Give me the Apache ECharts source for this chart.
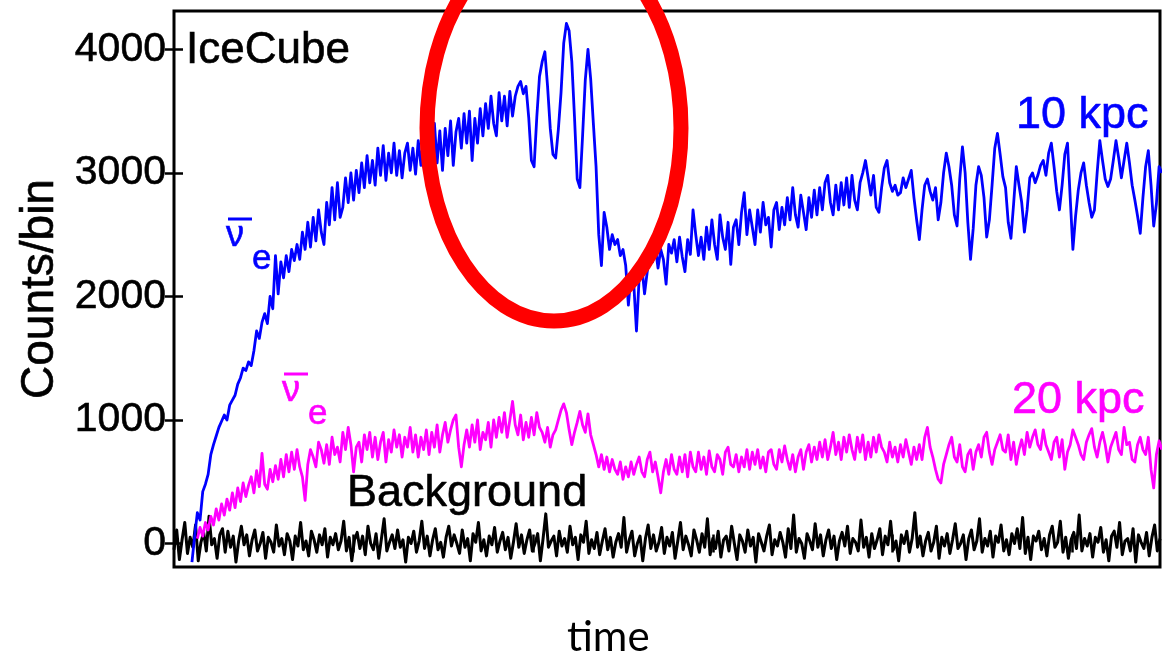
<!DOCTYPE html>
<html>
<head>
<meta charset="utf-8">
<title>IceCube counts</title>
<script src="https://cdn.jsdelivr.net/npm/echarts@6/dist/echarts.min.js"></script>
<style>
  html, body { margin: 0; padding: 0; background: #fff; }
  #chart { width: 1174px; height: 659px; }
</style>
</head>
<body>
<div id="chart"></div>
<script>
// Bin width of the light curves (time units) and start time of each curve
const binWidth = 1.5;
const startTen = 10;
const startTwenty = 13;
const startBackground = 0;

// Counts per bin, anti-electron neutrinos, supernova at 10 kpc
const countsTenKpc = [
  -150, 60, 250, 190, 420, 480, 560, 720, 800, 870, 940, 990, 1040, 1000, 1120, 1160, 1200, 1290, 1340, 1420,
  1400, 1470, 1440, 1560, 1720, 1660, 1790, 1860, 1780, 2000, 1900, 2330, 2020, 2280, 2150, 2330, 2200, 2380, 2290, 2420,
  2300, 2520, 2380, 2600, 2400, 2640, 2450, 2700, 2520, 2420, 2760, 2580, 2880, 2620, 2920, 2640, 2720, 2960, 2760, 3000,
  2780, 3020, 2840, 3080, 2880, 3140, 2920, 3100, 2900, 3200, 2980, 3220, 2940, 3160, 3000, 3240, 2980, 3180, 2960, 3160,
  3240, 3020, 3200, 2990, 3260, 3060, 3300, 3000, 3330, 3100, 3400, 3080, 3340, 3020, 3360, 3140, 3420, 3060, 3330, 3440,
  3200, 3480, 3240, 3500, 3100, 3440, 3240, 3520, 3300, 3560, 3360, 3620, 3400, 3300, 3650, 3420, 3620, 3380, 3660, 3460,
  3620, 3700, 3740, 3640, 3700, 3450, 3100, 3050, 3450, 3780, 3900, 3980, 3700, 3360, 3150, 3120, 3350, 3650, 4050, 4210,
  4150, 3900, 3450, 2950, 2880, 3300, 3750, 4000, 3760, 3400, 3050, 2500, 2250, 2680, 2560, 2380, 2500, 2420, 2460, 2330,
  2380, 2250, 1930, 2180, 2100, 1720, 2150, 2240, 2020, 2200, 2340, 2280, 2400, 2230, 2380, 2300, 2100, 2420, 2350, 2460,
  2280, 2480, 2320, 2200, 2460, 2340, 2700, 2500, 2330, 2480, 2300, 2560, 2380, 2620, 2420, 2300, 2660, 2480, 2380, 2600,
  2260, 2560, 2620, 2420, 2680, 2840, 2500, 2700, 2560, 2420, 2700, 2520, 2760, 2580, 2640, 2400, 2700, 2760, 2540, 2720,
  2580, 2800, 2620, 2880, 2660, 2560, 2820, 2680, 2540, 2800, 2640, 2860, 2660, 2880, 2700, 2920, 2980, 2760, 2660, 2900,
  2700, 2920, 2740, 2960, 2720, 2980, 2780, 2700, 2920, 3000, 3100, 2960, 2820, 2980, 2720, 2680, 2880, 3040, 3100, 2920,
  2850, 2900, 2820, 2840, 2960, 2880, 2950, 3020, 2800, 2620, 2460, 2700, 2900, 2950, 2850, 2780, 2880, 2620, 2760, 3000,
  3160, 3050, 2900, 2660, 2570, 2950, 3210, 3000, 2600, 2300, 2550, 2900, 3050, 2980, 2800, 2480, 2620, 2900, 3200, 3320,
  3150, 2970, 2880, 2600, 2470, 2750, 3050, 2900, 2760, 2520, 2700, 2960, 3000, 2920, 2980, 3060, 3100, 2980, 3160, 3240,
  3050, 2850, 2700, 2900, 3150, 3240, 2800, 2380, 2650, 2860, 3000, 3080, 2900, 2760, 2640, 2700, 3000, 3260, 3100, 2950,
  2890, 2950, 3100, 3260, 3120, 2960, 3100, 3240, 3080, 2900, 2780, 2650, 2510, 2800, 3050, 3180, 2900, 2570, 2750, 3050,
  3000
];

// Counts per bin, anti-electron neutrinos, supernova at 20 kpc
const countsTwentyKpc = [
  40, 130, 60, 170, 110, 220, 150, 280, 190, 320, 230, 360, 270, 410, 290, 450, 340, 490, 380, 470,
  540, 410, 590, 460, 730, 480, 440, 600, 500, 630, 520, 680, 540, 720, 580, 740, 600, 760, 620, 540,
  350, 640, 760, 700, 620, 820, 760, 650, 800, 640, 860, 720, 780, 660, 900, 760, 940, 800, 580, 780,
  820, 660, 880, 760, 900, 700, 860, 680, 820, 900, 660, 840, 740, 920, 780, 880, 700, 860, 780, 940,
  740, 880, 700, 860, 760, 920, 720, 900, 780, 960, 740, 880, 980, 820, 920, 1000, 1040, 780, 620, 800,
  920, 780, 960, 820, 1000, 760, 900, 840, 980, 780, 1000, 860, 1020, 900, 1060, 860, 1000, 1150, 960, 880,
  1040, 840, 980, 860, 1020, 880, 1060, 940, 900, 820, 940, 780, 880, 920, 1000, 1080, 1130, 1060, 920, 800,
  900, 980, 1070, 960, 900, 1050, 880, 800, 720, 620, 720, 600, 700, 580, 680, 600, 560, 660, 520, 620,
  540, 660, 560, 640, 700, 580, 540, 680, 740, 580, 660, 540, 410, 580, 680, 560, 720, 600, 560, 700,
  580, 720, 540, 740, 620, 580, 740, 600, 700, 560, 750, 620, 580, 720, 680, 560, 740, 780, 640, 620,
  720, 580, 700, 620, 760, 600, 740, 640, 760, 610, 700, 580, 740, 760, 640, 600, 760, 660, 790, 680,
  600, 720, 580, 700, 760, 600, 740, 800, 660, 780, 680, 820, 700, 840, 680, 780, 900, 720, 820, 680,
  860, 740, 880, 760, 680, 860, 740, 880, 680, 820, 700, 860, 740, 880, 780, 740, 660, 820, 700, 780,
  660, 800, 700, 840, 740, 640, 780, 680, 800, 680, 860, 940, 780, 700, 600, 520, 490, 640, 720, 800,
  860, 700, 660, 800, 620, 580, 720, 760, 600, 740, 800, 700, 860, 900, 740, 640, 760, 820, 880, 760,
  740, 880, 680, 820, 640, 760, 840, 720, 900, 780, 860, 920, 800, 760, 920, 800, 740, 680, 820, 860,
  700, 840, 600, 740, 800, 920, 860, 800, 720, 680, 820, 880, 930, 780, 700, 820, 900, 800, 660, 780,
  840, 900, 760, 720, 940, 800, 820, 680, 660, 800, 860, 760, 720, 860, 600, 450, 720, 830, 760
];

// Counts per bin, detector background
const countsBackground = [
  -50, 110, -130, 30, 170, -80, 50, -30, 150, -140, 10, 90, -60, 220, -10, 40, -120, 70, 120, -70,
  100, -30, 60, -150, 20, 140, -10, 70, -100, 30, 110, -60, 0, 90, -120, 50, 10, -70, 150, -20,
  40, -90, 80, 20, -130, 60, -20, 170, -50, 20, -100, 100, 30, -70, 70, -10, 120, -110, 50, -10,
  80, -50, 20, 180, -60, 50, -140, 30, 90, -40, 60, -90, 140, 0, -50, 80, -120, 40, 200, -60,
  10, 70, -40, 110, -30, 30, -150, 50, 0, 100, -70, 20, 180, -40, 60, -100, 30, 120, -50, 10,
  -110, 50, 140, -20, 70, 0, -80, 110, -30, 40, -140, 80, 10, 170, -60, 30, -100, 60, -10, 130,
  -70, 20, 90, -50, 50, -120, 10, 160, -30, 70, -80, 30, 110, -60, 0, 80, -140, 40, 240, -30,
  20, 60, -100, 100, -20, 40, -70, 140, -10, 50, -130, 70, 10, 180, -80, 30, -40, 90, -90, 20,
  120, -50, 50, -110, 10, 80, -30, 210, -70, 30, 100, -100, 0, 60, -140, 40, 150, -40, 70, -60,
  10, 130, -80, 50, -20, 90, -120, 20, 170, -50, 60, -10, -100, 110, 30, -70, 80, -30, 200, -90,
  40, -40, 100, -110, 30, 60, -60, 140, 0, -130, 70, 20, -70, 110, -20, 50, -150, 80, 10, -60,
  60, 150, -90, 30, -20, 90, 10, -110, 120, -40, 230, -70, 40, 0, -120, 80, 20, -50, 160, -30,
  70, -100, 30, 110, -40, 60, -130, 20, 90, -20, 140, -80, 40, 10, -60, 190, -30, 50, -110, 80,
  -40, 30, 120, -90, 60, -10, 180, -50, 20, -140, 70, 0, 100, -70, 40, 250, -30, 60, -100, 20,
  90, -60, 10, 140, -120, 50, -20, 80, -80, 30, 160, -40, 0, 70, -130, 40, 110, -50, 20, 200,
  -70, 40, -20, 100, -110, 60, 10, 150, -60, 30, -90, 80, 0, 120, -40, 210, -80, 50, -130, 60,
  20, 100, -50, 40, -100, 70, 140, -30, 10, 180, -70, 50, -120, 30, 90, -40, 230, -60, 40, -20,
  80, -110, 50, 10, 130, -70, 30, -140, 60, 100, -30, 170, -90, 20, 40, -60, 120, -150, 70, 10,
  -40, 90, -100, 50, 150, -60, 40
];

// Axis ticks
const countTicks = [0, 1000, 2000, 3000, 4000];
const timeTicks = [100, 200, 300, 400, 500];

// Pair each count with the time of its bin
function toPairs(counts, start) {
  return counts.map((c, i) => [start + i * binWidth, c]);
}

const FONT = '"Liberation Sans", Arial, Helvetica, sans-serif';
const BLUE = '#0000ff';
const MAGENTA = '#ff00ff';

const chart = echarts.init(document.getElementById('chart'), null, { renderer: 'canvas' });

const tickStyle = { inside: true, length: 9, lineStyle: { color: '#000', width: 2.5 } };

// overlined nu with subscript e
function nuBarE(x, baselineNu, color) {
  const txt = { fill: color, stroke: color, lineWidth: 0.6, textAlign: 'left', textVerticalAlign: 'middle' };
  return {
    type: 'group',
    children: [
      { type: 'text', x: x - 1, y: baselineNu - 11,
        style: Object.assign({ text: 'ν', font: '36px ' + FONT }, txt) },
      { type: 'line', shape: { x1: x + 1, y1: baselineNu - 28, x2: x + 25, y2: baselineNu - 28 },
        style: { stroke: color, lineWidth: 3 } },
      { type: 'text', x: x + 25, y: baselineNu + 12,
        style: Object.assign({ text: 'e', font: '35px ' + FONT }, txt) }
    ]
  };
}

function label(text, x, y, size, color) {
  return { type: 'text', x: x, y: y,
    style: { text: text, font: size + 'px ' + FONT, fill: color, stroke: color, lineWidth: 0.6,
      textVerticalAlign: 'middle' } };
}

const lineCommon = { showSymbol: false, smooth: false, clip: true };

const option = {
  animation: false,
  backgroundColor: '#fff',
  grid: {
    left: 174, right: 14, top: 11, bottom: 92,
    show: true, borderColor: '#000', borderWidth: 3, backgroundColor: 'transparent'
  },
  xAxis: [
    { type: 'value', min: 0, max: 549, position: 'bottom',
      splitLine: { show: false }, axisLine: { show: false },
      axisTick: Object.assign({ customValues: timeTicks }, tickStyle),
      axisLabel: { show: false } },
    { type: 'value', min: 0, max: 549, position: 'top',
      splitLine: { show: false }, axisLine: { show: false },
      axisTick: Object.assign({ customValues: timeTicks }, tickStyle),
      axisLabel: { show: false } }
  ],
  yAxis: [
    { type: 'value', min: -190, max: 4310, position: 'left',
      name: 'Counts/bin', nameLocation: 'middle', nameGap: 104, nameRotate: 90,
      nameTextStyle: { fontFamily: FONT, fontSize: 46, color: '#000', textBorderColor: '#000', textBorderWidth: 0.6 },
      splitLine: { show: false }, axisLine: { show: false },
      axisTick: Object.assign({ customValues: countTicks }, tickStyle),
      axisLabel: { customValues: countTicks, formatter: v => String(v),
        fontFamily: FONT, fontSize: 41, color: '#000', textBorderColor: '#000', textBorderWidth: 0.6, margin: 8 } },
    { type: 'value', min: -190, max: 4310, position: 'right',
      splitLine: { show: false }, axisLine: { show: false },
      axisTick: Object.assign({ customValues: countTicks }, tickStyle),
      axisLabel: { show: false } }
  ],
  series: [
    Object.assign({ name: 'Background', type: 'line', data: toPairs(countsBackground, startBackground),
      lineStyle: { color: '#000', width: 3, join: 'round' }, z: 2 }, lineCommon),
    Object.assign({ name: '20 kpc', type: 'line', data: toPairs(countsTwentyKpc, startTwenty),
      lineStyle: { color: MAGENTA, width: 2.8, join: 'round' }, z: 3 }, lineCommon),
    Object.assign({ name: '10 kpc', type: 'line', data: toPairs(countsTenKpc, startTen),
      lineStyle: { color: BLUE, width: 2.8, join: 'round' }, z: 4 }, lineCommon)
  ],
  graphic: [
    label('IceCube', 186, 51, 44, '#000'),
    label('10 kpc', 1016, 116, 45, BLUE),
    label('20 kpc', 1012, 401, 45, MAGENTA),
    label('Background', 347, 494, 45, '#000'),
    { type: 'text', x: 567, y: 637,
      style: { text: 'time', font: '42px Lato, "Open Sans", sans-serif', fill: '#000', textVerticalAlign: 'middle' } },
    nuBarE(227, 247, BLUE),
    nuBarE(283, 402, MAGENTA),
    { type: 'ellipse', z: 100,
      shape: { cx: 554, cy: 128, rx: 127, ry: 193 },
      style: { fill: 'none', stroke: '#ff0000', lineWidth: 15 } }
  ]
};

chart.setOption(option);
</script>
</body>
</html>
